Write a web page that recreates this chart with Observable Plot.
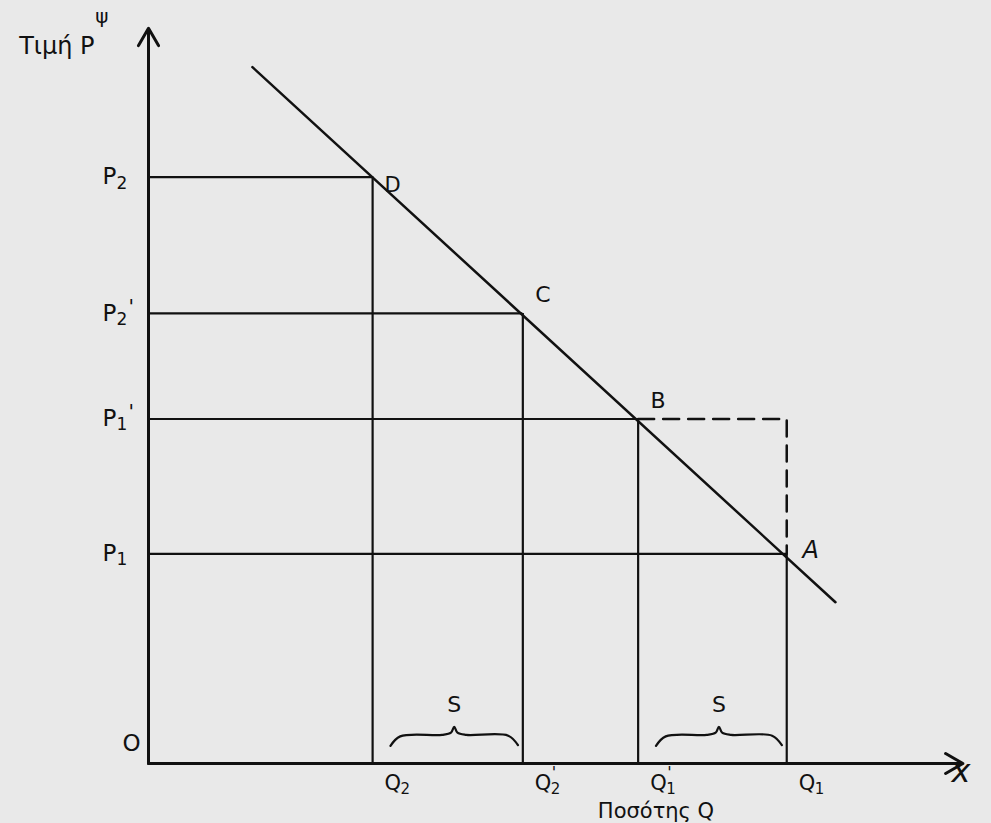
<!DOCTYPE html>
<html>
<head>
<meta charset="utf-8">
<script src="https://cdn.jsdelivr.net/npm/d3@7"></script>
<script src="https://cdn.jsdelivr.net/npm/@observablehq/plot@0.6"></script>
<style>
  html, body { margin: 0; padding: 0; background: #e9e9e9; }
  #chart svg { display: block; }
</style>
</head>
<body>
<div id="chart"></div>
<script>
// ---- data (abstract units: origin O = (0,0)) ----
const pointNames   = ["D", "C", "B", "A"];
const quantities   = [27.6, 46.1, 60.3, 78.6];      // Q2, Q2', Q1', Q1
const prices       = [80.0, 61.4, 47.0, 28.6];      // P2, P2', P1', P1
const labelSubs    = ["2", "2", "1", "1"];          // subscripts of P and Q labels
const labelPrimes  = ["", "'", "'", ""];            // primes of P and Q labels
const demandQ      = [12.8, 84.6];
const demandP      = [95.0, 22.0];
const axisMax      = [100.3, 100.3];                // x end, y end
const shiftPairs   = [[0, 1], [2, 3]];              // S braces: Q2→Q2', Q1'→Q1

// ---- derived tables ----
const pts = pointNames.map((n, i) => ({name: n, q: quantities[i], p: prices[i], sub: labelSubs[i], prime: labelPrimes[i]}));
const demand = demandQ.map((q, i) => ({q, p: demandP[i]}));
const dashed = [
  {q: quantities[2], p: prices[2]},
  {q: quantities[3], p: prices[2]},
  {q: quantities[3], p: prices[3]}
];
function brace(a, b, id) {
  const x0 = a + 2.2, x1 = b - 0.6, m = (x0 + x1) / 2;
  return [
    [x0, 2.4], [x0 + 1.2, 3.7], [m - 1.5, 3.9], [m - 0.4, 4.2], [m, 5.0],
    [m + 0.4, 4.2], [m + 1.5, 3.9], [x1 - 1.2, 3.8], [x1, 2.5]
  ].map(([q, p]) => ({q, p, id}));
}
const braces = shiftPairs.flatMap(([i, j], k) => brace(quantities[i], quantities[j], k));
const sLabels = shiftPairs.map(([i, j]) => ({q: (quantities[i] + quantities[j]) / 2 + 0.8, p: 5, t: "S"}));
const primed = pts.filter(d => d.prime);

const font = "DejaVu Sans";
const ink = "#111";
const arrowOpts = {x1: "x1", y1: "y1", x2: "x2", y2: "y2", stroke: ink, strokeWidth: 3, headLength: 10};

const chart = Plot.plot({
  width: 991,
  height: 823,
  marginLeft: 148,
  marginRight: 31,
  marginTop: 30,
  marginBottom: 60,
  x: {domain: [0, 100], axis: null},
  y: {domain: [0, 100], axis: null},
  style: {background: "transparent", fontFamily: font},
  marks: [
    // price level lines from the axis to each point
    Plot.ruleY(pts, {y: "p", x1: 0, x2: "q", stroke: ink, strokeWidth: 2.2}),
    // quantity lines from each point down to the axis
    Plot.ruleX(pts, {x: "q", y1: 0, y2: "p", stroke: ink, strokeWidth: 2.2}),
    // dashed rectangle corner B → (Q1, P1') → A
    Plot.line(dashed, {x: "q", y: "p", stroke: ink, strokeWidth: 2.5, strokeDasharray: "16,9"}),
    // demand line
    Plot.line(demand, {x: "q", y: "p", stroke: ink, strokeWidth: 2.5}),
    // axes with arrows
    Plot.arrow([{x1: 0, y1: 0, x2: 0, y2: axisMax[1]}], arrowOpts),
    Plot.arrow([{x1: 0, y1: 0, x2: axisMax[0], y2: 0}], arrowOpts),
    // braces S
    Plot.line(braces, {x: "q", y: "p", z: "id", curve: "catmull-rom", stroke: ink, strokeWidth: 2.2}),
    Plot.text(sLabels, {x: "q", y: "p", text: "t", dy: -22, fontSize: 22, fill: ink}),
    // point labels
    Plot.text(pts.filter(d => d.name === "D"), {x: "q", y: "p", text: "name", dx: 20, dy: 8, fontSize: 21, fill: ink}),
    Plot.text(pts.filter(d => d.name === "C" || d.name === "B"), {x: "q", y: "p", text: "name", dx: 20, dy: -18, fontSize: 22, fill: ink}),
    Plot.text(pts.filter(d => d.name === "A"), {x: "q", y: "p", text: "name", dx: 24, dy: -4, fontSize: 24, fontStyle: "italic", fill: ink}),
    // price labels: P + subscript + prime
    Plot.text(pts, {x: 0, y: "p", text: () => "P", textAnchor: "start", dx: -46, dy: 0, fontSize: 23, fill: ink}),
    Plot.text(pts, {x: 0, y: "p", text: "sub", textAnchor: "start", dx: -32, dy: 6, fontSize: 17, fill: ink}),
    Plot.text(primed, {x: 0, y: "p", text: "prime", textAnchor: "start", dx: -20, dy: -7, fontSize: 20, fill: ink}),
    // quantity labels: Q + subscript + prime
    Plot.text(pts, {x: "q", y: 0, text: () => "Q", textAnchor: "start", dx: 12, dy: 20, fontSize: 21, fill: ink}),
    Plot.text(pts, {x: "q", y: 0, text: "sub", textAnchor: "start", dx: 28, dy: 26, fontSize: 15, fill: ink}),
    Plot.text(primed, {x: "q", y: 0, text: "prime", textAnchor: "start", dx: 29, dy: 9, fontSize: 16, fill: ink}),
    // origin, axis names
    Plot.text([{q: 0, p: 0}], {x: "q", y: "p", text: () => "O", dx: -17, dy: -20, fontSize: 23, fill: ink}),
    Plot.text([{q: axisMax[0], p: 0}], {x: "q", y: "p", text: () => "x", dx: -2, dy: 8, fontSize: 32, fontStyle: "italic", fill: ink}),
    Plot.text([{q: 62.5, p: 0}], {x: "q", y: "p", text: () => "Ποσότης Q", dy: 48, fontSize: 21, fill: ink}),
    Plot.text([{q: 0, p: axisMax[1]}], {x: "q", y: "p", text: () => "Τιμή P", textAnchor: "end", dx: -54, dy: 18, fontSize: 24, fill: ink}),
    Plot.text([{q: 0, p: axisMax[1]}], {x: "q", y: "p", text: () => "ψ", textAnchor: "end", dx: -40, dy: -12, fontSize: 20, fill: ink})
  ]
});
document.getElementById("chart").appendChild(chart);
</script>
</body>
</html>
